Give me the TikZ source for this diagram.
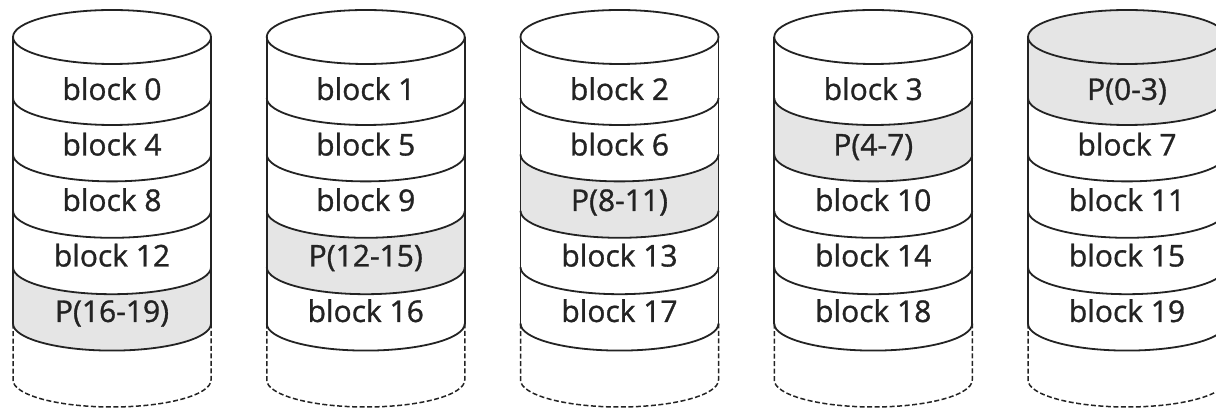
\documentclass[tikz,border=0pt]{standalone}
\usepackage{fontspec}
\setmainfont{Open Sans}
\newfontfamily\labfont{Open Sans}[FakeBold=1.0]
\definecolor{pgray}{RGB}{229,229,229}
\definecolor{lcol}{RGB}{35,35,35}
\begin{document}
\begin{tikzpicture}[x=1pt,y=1pt,
  disk/.style={draw=lcol,line width=1.8pt},
  dline/.style={draw=lcol,line width=1.5pt,dash pattern=on 5pt off 2.5pt},
  lab/.style={font=\labfont\fontsize{30}{36}\selectfont,text=lcol,anchor=base,inner sep=0pt}]
\useasboundingbox (0,0) rectangle (1216,409);
\clip (0,0) rectangle (1216,409);
\foreach \i/\g/\la/\lb/\lc/\ld/\le in {
  0/4/block 0/block 4/block 8/block 12/P(16-19),
  1/3/block 1/block 5/block 9/P(12-15)/block 16,
  2/2/block 2/block 6/P(8-11)/block 13/block 17,
  3/1/block 3/P(4-7)/block 10/block 14/block 18,
  4/0/P(0-3)/block 7/block 11/block 15/block 19}{
  \pgfmathsetmacro\cx{112+253.75*\i}
  % band fills
  \foreach \k in {0,...,4}{
    \pgfmathsetmacro\ya{ifthenelse(\k==0,372,367.4-56.4*\k)}
    \pgfmathsetmacro\yb{367.4-56.4*(\k+1)}
    \ifnum\k=\g\relax \def\fc{pgray}\else\def\fc{white}\fi
    \fill[\fc] (\cx-99,\ya) arc[start angle=180,end angle=360,x radius=99pt,y radius=27pt]
      -- (\cx+99,\yb) arc[start angle=0,end angle=-180,x radius=99pt,y radius=27pt] -- cycle;
  }
  % top ellipse
  \ifnum\g=0\relax \def\tc{pgray}\else\def\tc{white}\fi
  \draw[disk,fill=\tc] (\cx,372) ellipse[x radius=99pt,y radius=27pt];
  % band dividers
  \foreach \k in {1,...,5}{
    \pgfmathsetmacro\yk{367.4-56.4*\k}
    \draw[disk] (\cx-99,\yk) arc[start angle=180,end angle=360,x radius=99pt,y radius=27pt];
  }
  % sides
  \draw[disk] (\cx-99,372) -- (\cx-99,85.4);
  \draw[disk] (\cx+99,372) -- (\cx+99,85.4);
  % dashed lower part
  \draw[dline] (\cx-99,85.4) -- (\cx-99,29) arc[start angle=180,end angle=360,x radius=99pt,y radius=27pt] -- (\cx+99,85.4);
  % labels
  \node[lab] (c\i b0) at (\cx,309) {\la};
  \node[lab] (c\i b1) at (\cx,253.5) {\lb};
  \node[lab] (c\i b2) at (\cx,198) {\lc};
  \node[lab] (c\i b3) at (\cx,142.5) {\ld};
  \node[lab] (c\i b4) at (\cx,87) {\le};
}
\end{tikzpicture}
\end{document}
